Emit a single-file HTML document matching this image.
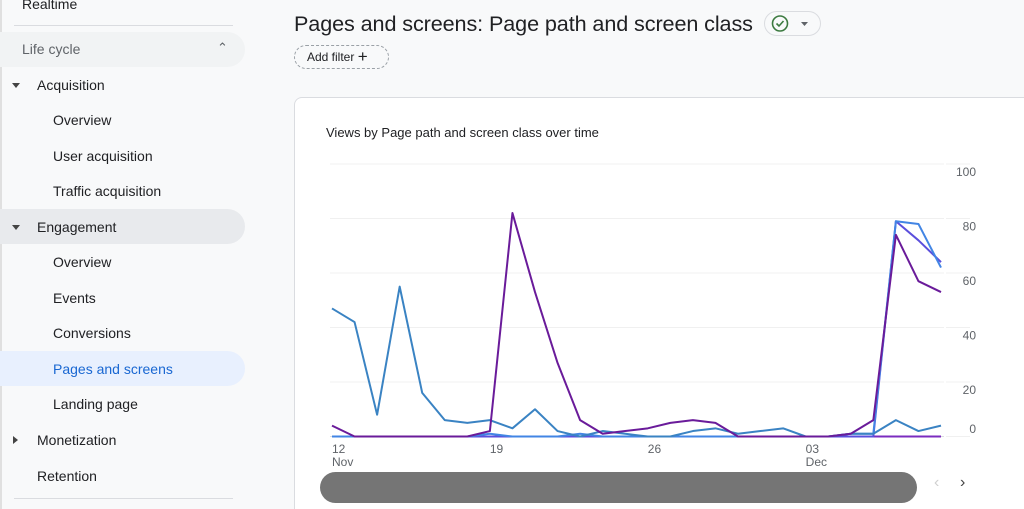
<!DOCTYPE html>
<html style="overflow:hidden;height:509px"><head><meta charset="utf-8"><style>
body{margin:0;width:1024px;height:509px;overflow:hidden;background:#f8f9fa;font-family:"Liberation Sans",sans-serif;position:relative}
.sb{position:absolute;left:0;top:0;width:245px;height:509px;border-left:2px solid #e0e0e0;box-sizing:border-box}
.it{position:absolute;font-size:14px;color:#202124;white-space:nowrap}
.hl{position:absolute;left:-2px;width:245px;border-radius:0 18px 18px 0}
.tri{position:absolute;left:10px;width:0;height:0;border-left:4px solid transparent;border-right:4px solid transparent;border-top:5px solid #444}
</style></head><body>
<div class="sb">
 <div class="it" style="left:20px;top:-4px">Realtime</div>
 <div style="position:absolute;left:12px;top:25px;width:219px;height:1px;background:#dadce0"></div>
 <div class="hl" style="top:32px;height:35px;background:#f1f3f4"></div>
 <div class="it" style="left:20px;top:41px;color:#5f6368">Life cycle</div>
 <div class="it" style="left:215px;top:40px;color:#5f6368;font-size:13px">&#8963;</div>
 <div class="tri" style="top:83px"></div>
 <div class="it" style="left:35px;top:77px">Acquisition</div>
 <div class="it" style="left:51px;top:112px">Overview</div>
 <div class="it" style="left:51px;top:148px">User acquisition</div>
 <div class="it" style="left:51px;top:183px">Traffic acquisition</div>
 <div class="hl" style="top:209px;height:35px;background:#e8eaed"></div>
 <div class="tri" style="top:225px"></div>
 <div class="it" style="left:35px;top:219px">Engagement</div>
 <div class="it" style="left:51px;top:254px">Overview</div>
 <div class="it" style="left:51px;top:290px">Events</div>
 <div class="it" style="left:51px;top:325px">Conversions</div>
 <div class="hl" style="top:351px;height:35px;background:#e8f0fe"></div>
 <div class="it" style="left:51px;top:361px;color:#1967d2">Pages and screens</div>
 <div class="it" style="left:51px;top:396px">Landing page</div>
 <div style="position:absolute;left:11px;top:436px;border-top:4px solid transparent;border-bottom:4px solid transparent;border-left:5px solid #444"></div>
 <div class="it" style="left:35px;top:432px">Monetization</div>
 <div class="it" style="left:35px;top:468px">Retention</div>
 <div style="position:absolute;left:12px;top:498px;width:219px;height:1px;background:#dadce0"></div>
</div>
<div style="position:absolute;left:294px;top:11px;font-size:21.6px;color:#202124;white-space:nowrap;letter-spacing:-0.1px">Pages and screens: Page path and screen class</div>
<div style="position:absolute;left:764px;top:11px;width:57px;height:25px;border:1px solid #dadce0;border-radius:14px;box-sizing:border-box">
 <svg width="57" height="25" style="position:absolute;left:-1px;top:-1px"><circle cx="16" cy="12.5" r="7.5" fill="none" stroke="#3c7a40" stroke-width="1.6"/><path d="M12.5 12.5l2.5 2.5 4.5-5" fill="none" stroke="#3c7a40" stroke-width="1.6"/><path d="M37 11h7l-3.5 4z" fill="#5f6368"/></svg>
</div>
<div style="position:absolute;left:294px;top:45px;width:95px;height:24px;border:1px dashed #9aa0a6;border-radius:13px;box-sizing:border-box;font-size:12px;color:#202124;line-height:22px;padding-left:12px">Add filter <span style="font-size:17px;vertical-align:-1px">+</span></div>
<div style="position:absolute;left:294px;top:97px;width:730px;height:412px;background:#fff;border:1px solid #dadce0;border-right:none;border-bottom:none;border-radius:8px 0 0 0;box-sizing:border-box"></div>
<div style="position:absolute;left:326px;top:125px;font-size:13px;color:#202124;white-space:nowrap">Views by Page path and screen class over time</div>
<svg id="chart" width="1024" height="509" style="position:absolute;left:0;top:0"></svg>
<div style="position:absolute;left:320px;top:472px;width:597px;height:31px;background:#757575;border-radius:16px"></div>
<div style="position:absolute;left:934px;top:474px;font-size:16px;color:#d0d0d0">&#8249;</div>
<div style="position:absolute;left:960px;top:474px;font-size:16px;color:#444">&#8250;</div>
<script>
const yTicks=[0,20,40,60,80,100];
const xTickIdx=[0,7,14,21];
const xTickLabels=["12","19","26","03"];
const xTickSub=["Nov","","","Dec"];
const seriesA=[47,42,8,55,16,6,5,6,3,10,2,0,2,1,0,0,2,3,1,2,3,0,0,1,1,6,2,4];
const seriesB=[4,0,0,0,0,0,0,2,82,53,27,6,1,2,3,5,6,5,0,0,0,0,0,1,6,74,57,53];
const seriesC=[0,0,0,0,0,0,0,1,0,0,0,1,0,0,0,0,0,0,0,0,0,0,0,1,1,79,78,62];
const seriesD=[0,0,0,0,0,0,0,0,0,0,0,0,0,0,0,0,0,0,0,0,0,0,0,0,0,79,72,64];
const seriesE=[0,0,0,0,0,0,0,0,0,0,0,0,0,0,0,0,0,0,0,0,0,0,0,0,0,0,0,0];
const svg=document.getElementById('chart');
const NS='http://www.w3.org/2000/svg';
const n=seriesA.length;
function xs(i){return 332+i*(941-332)/(n-1);}
function ys(v){return 436.5-v*(436.5-164)/100;}
yTicks.forEach(t=>{
 const l=document.createElementNS(NS,'line');
 
 
 l.setAttribute('x1',330);l.setAttribute('x2',944);l.setAttribute('y1',ys(t));l.setAttribute('y2',ys(t));
 l.setAttribute('stroke',t===0?'#dadce0':'#f0f0f0');l.setAttribute('stroke-width',1);
 svg.appendChild(l);
 const l2=document.createElementNS(NS,'line');
 
 
 l2.setAttribute('x1',946);l2.setAttribute('x2',970);l2.setAttribute('y1',ys(t));l2.setAttribute('y2',ys(t));
 l2.setAttribute('stroke','#f0f0f0');
 svg.appendChild(l2);
 const tx=document.createElementNS(NS,'text');
 
 
 tx.setAttribute('x',976);tx.setAttribute('y',t===0?433:ys(t)+12);
 tx.setAttribute('text-anchor','end');tx.setAttribute('font-size','12');tx.setAttribute('fill','#5f6368');
 tx.setAttribute('font-family','Liberation Sans, sans-serif');
 tx.textContent=t;svg.appendChild(tx);
});
xTickIdx.forEach((idx,k)=>{
 const tx=document.createElementNS(NS,'text');
 
 
 tx.setAttribute('x',xs(idx));tx.setAttribute('y',453);
 tx.setAttribute('font-size','12');tx.setAttribute('fill','#5f6368');
 tx.setAttribute('font-family','Liberation Sans, sans-serif');
 tx.textContent=xTickLabels[k];svg.appendChild(tx);
 if(xTickSub[k]){
  const s=document.createElementNS(NS,'text');
  
  
  s.setAttribute('x',xs(idx));s.setAttribute('y',466);
  s.setAttribute('font-size','12');s.setAttribute('fill','#5f6368');
  s.setAttribute('font-family','Liberation Sans, sans-serif');
  s.textContent=xTickSub[k];svg.appendChild(s);
 }
});
function line(data,color,name){
 const p=document.createElementNS(NS,'polyline');
 
 
 p.setAttribute('points',data.map((v,i)=>xs(i)+','+ys(v)).join(' '));
 p.setAttribute('fill','none');p.setAttribute('stroke',color);p.setAttribute('stroke-width',2);
 p.setAttribute('stroke-linejoin','round');
 svg.appendChild(p);
}
line(seriesE,'#7b2cbf','series-e-line');
line(seriesD,'#5b4fdc','series-d-line');
line(seriesC,'#4285e4','series-c-line');
line(seriesA,'#3a83c3','series-a-line');
line(seriesB,'#6a1b9a','series-b-line');
</script>
</body></html>
